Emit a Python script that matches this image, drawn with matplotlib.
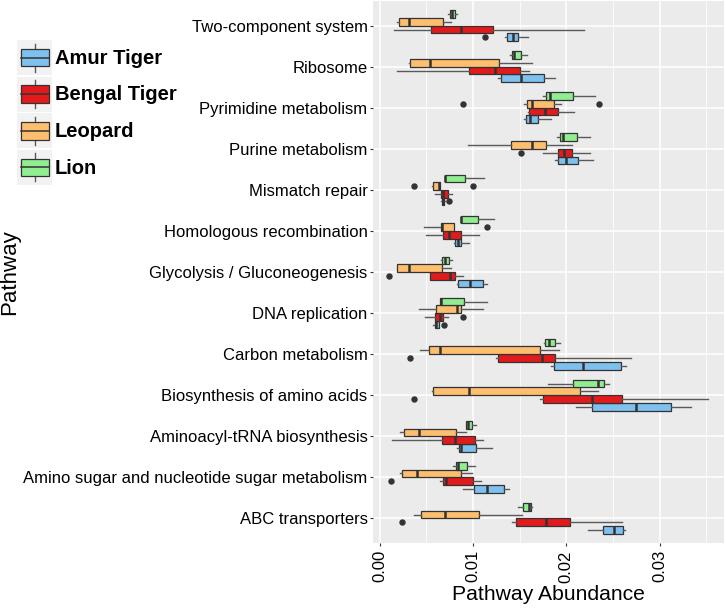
import numpy as np
import matplotlib
matplotlib.use('Agg')
import matplotlib.pyplot as plt
from matplotlib.patches import Patch, Rectangle
from matplotlib.lines import Line2D
from matplotlib.legend_handler import HandlerBase

plt.rcParams['font.family'] = ['Liberation Sans', 'DejaVu Sans']

# pathways, bottom -> top
pathways = ['ABC transporters',
            'Amino sugar and nucleotide sugar metabolism',
            'Aminoacyl-tRNA biosynthesis',
            'Biosynthesis of amino acids',
            'Carbon metabolism',
            'DNA replication',
            'Glycolysis / Gluconeogenesis',
            'Homologous recombination',
            'Mismatch repair',
            'Purine metabolism',
            'Pyrimidine metabolism',
            'Ribosome',
            'Two-component system']

groups = ['Amur Tiger', 'Bengal Tiger', 'Leopard', 'Lion']
colors = ['#7EC0EE', '#E31A1C', '#FDBF6F', '#90EE90']

# (whisker low, q1, median, q3, whisker high) per pathway
amur_stats = [
    (0.02229, 0.02393, 0.02507, 0.02607, 0.02629),
    (0.00889, 0.01011, 0.01154, 0.01332, 0.01389),
    (0.00832, 0.00854, 0.00875, 0.01032, 0.01207),
    (0.02104, 0.02275, 0.02750, 0.03125, 0.03332),
    (0.01840, 0.01868, 0.02179, 0.02586, 0.02643),
    (0.00571, 0.00593, 0.00604, 0.00632, 0.00632),
    (0.00832, 0.00843, 0.00971, 0.01111, 0.01150),
    (0.00796, 0.00804, 0.00839, 0.00875, 0.00961),
    (0.00654, 0.00668, 0.00682, 0.00693, 0.00696),
    (0.01879, 0.01914, 0.02000, 0.02125, 0.02289),
    (0.01550, 0.01568, 0.01614, 0.01700, 0.01836),
    (0.01271, 0.01300, 0.01511, 0.01761, 0.01882),
    (0.01346, 0.01361, 0.01425, 0.01479, 0.01593)]
amur_out = [[], [], [], [], [], [0.00695], [], [], [0.00746], [], [], [], [0.01132]]

bengal_stats = [
    (0.01421, 0.01461, 0.01786, 0.02036, 0.02593),
    (0.00646, 0.00675, 0.00707, 0.00996, 0.01086),
    (0.00136, 0.00668, 0.00811, 0.01025, 0.01104),
    (0.01714, 0.01750, 0.02275, 0.02593, 0.03518),
    (0.01243, 0.01268, 0.01736, 0.01882, 0.02696),
    (0.00484, 0.00596, 0.00650, 0.00679, 0.00729),
    (0.00543, 0.00543, 0.00757, 0.00804, 0.00896),
    (0.00502, 0.00682, 0.00743, 0.00875, 0.01064),
    (0.00589, 0.00654, 0.00679, 0.00736, 0.00775),
    (0.01750, 0.01914, 0.01975, 0.02064, 0.02254),
    (0.01586, 0.01600, 0.01775, 0.01911, 0.02086),
    (0.00186, 0.00957, 0.01239, 0.01504, 0.01604),
    (0.00154, 0.00546, 0.00875, 0.01218, 0.02193)]
bengal_out = [[0.00243], [0.00125], [], [0.00364], [0.00321], [0.00895], [0.00100],
              [], [], [0.01514], [], [], []]

leopard_stats = [
    (0.00364, 0.00443, 0.00704, 0.01064, 0.01529),
    (0.00221, 0.00239, 0.00396, 0.00875, 0.00993),
    (0.00214, 0.00261, 0.00425, 0.00818, 0.00929),
    (0.00564, 0.00571, 0.00961, 0.02143, 0.02343),
    (0.00432, 0.00525, 0.00646, 0.01718, 0.01918),
    (0.00420, 0.00602, 0.00834, 0.00875, 0.01105),
    (0.00190, 0.00190, 0.00314, 0.00668, 0.00768),
    (0.00473, 0.00658, 0.00671, 0.00796, 0.00796),
    (0.00557, 0.00568, 0.00636, 0.00646, 0.00646),
    (0.00946, 0.01407, 0.01629, 0.01782, 0.02064),
    (0.01546, 0.01579, 0.01629, 0.01868, 0.01943),
    (0.00314, 0.00329, 0.00536, 0.01279, 0.01636),
    (0.00186, 0.00207, 0.00311, 0.00675, 0.00768)]
leopard_out = [[], [], [], [], [], [], [], [0.01154], [0.00366, 0.01000], [],
               [0.00893, 0.02346], [], []]

lion_stats = [
    (0.01482, 0.01536, 0.01600, 0.01621, 0.01636),
    (0.00789, 0.00814, 0.00839, 0.00936, 0.01018),
    (0.00921, 0.00929, 0.00950, 0.00986, 0.01029),
    (0.01807, 0.02071, 0.02339, 0.02407, 0.02461),
    (0.01760, 0.01775, 0.01818, 0.01882, 0.01936),
    (0.00643, 0.00645, 0.00654, 0.00905, 0.01150),
    (0.00657, 0.00668, 0.00696, 0.00743, 0.00779),
    (0.00868, 0.00870, 0.00875, 0.01054, 0.01227),
    (0.00702, 0.00703, 0.00706, 0.00912, 0.01114),
    (0.01900, 0.01929, 0.01968, 0.02114, 0.02254),
    (0.01746, 0.01786, 0.01829, 0.02071, 0.02311),
    (0.01400, 0.01418, 0.01439, 0.01514, 0.01579),
    (0.00732, 0.00754, 0.00775, 0.00807, 0.00829)]
lion_out = [[] for _ in pathways]

all_stats = [amur_stats, bengal_stats, leopard_stats, lion_stats]
all_out = [amur_out, bengal_out, leopard_out, lion_out]


class BoxKey(HandlerBase):
    # ggplot-like boxplot legend key
    def create_artists(self, legend, orig_handle, xdescent, ydescent,
                       width, height, fontsize, trans):
        x0, y0 = -xdescent, -ydescent
        bg = Rectangle((x0, y0), width, height, facecolor='#F2F2F2',
                       edgecolor='none', transform=trans)
        wl = Line2D([x0 + width / 2] * 2, [y0 + 0.1 * height, y0 + 0.9 * height],
                    color='#595959', lw=1, transform=trans)
        bx = Rectangle((x0 + 0.1 * width, y0 + 0.25 * height), 0.8 * width, 0.5 * height,
                       facecolor=orig_handle.get_facecolor(), edgecolor='#333333',
                       lw=0.9, transform=trans)
        md = Line2D([x0 + 0.1 * width, x0 + 0.9 * width], [y0 + height / 2] * 2,
                    color='#333333', lw=1.1, transform=trans)
        return [bg, wl, bx, md]


fig = plt.figure(figsize=(7.26, 6.08), dpi=100)
ax = fig.add_axes([0.5134, 0.1069, 0.4839, 0.8914])
ax.set_facecolor('#EBEBEB')

base = np.arange(1, len(pathways) + 1)
dodge = 0.1875
offsets = [-1.5 * dodge, -0.5 * dodge, 0.5 * dodge, 1.5 * dodge]

for stats, outs, col, off in zip(all_stats, all_out, colors, offsets):
    bstats = []
    for s, o in zip(stats, outs):
        bstats.append({'whislo': s[0], 'q1': s[1], 'med': s[2], 'q3': s[3],
                       'whishi': s[4], 'fliers': o})
    ax.bxp(bstats, positions=base + off, widths=dodge, orientation='horizontal',
           patch_artist=True, showcaps=False, manage_ticks=False,
           boxprops=dict(facecolor=col, edgecolor='#333333', linewidth=0.9),
           medianprops=dict(color='#333333', linewidth=1.8),
           whiskerprops=dict(color='#5A5A5A', linewidth=1.0),
           flierprops=dict(marker='o', markersize=3.6, markerfacecolor='#333333',
                           markeredgecolor='#333333'),
           zorder=3)

ax.set_xlim(-0.00073, 0.03691)
ax.set_ylim(0.4, len(pathways) + 0.6)
ax.set_xticks([0.0, 0.01, 0.02, 0.03])
ax.set_xticklabels(['0.00', '0.01', '0.02', '0.03'], rotation=90, fontsize=12)
ax.set_xticks([0.005, 0.015, 0.025, 0.035], minor=True)
ax.set_yticks(base)
ax.set_yticklabels(pathways, fontsize=12)
ax.grid(True, which='major', color='white', linewidth=1.1, zorder=0)
ax.grid(True, which='minor', axis='x', color='white', linewidth=0.55, zorder=0)
ax.set_axisbelow(True)
for sp in ax.spines.values():
    sp.set_visible(False)
ax.tick_params(axis='both', which='major', length=2.2, width=0.8, color='#333333',
               pad=1.5, labelcolor='black')
ax.tick_params(axis='x', which='major', pad=3)
ax.tick_params(axis='x', which='minor', length=0)

ax.set_xlabel('Pathway Abundance', fontsize=15.2, labelpad=2)
ax.set_ylabel('Pathway', fontsize=16, labelpad=2)

handles = [Patch(facecolor=c) for c in colors]
fig.legend(handles, groups, handler_map={Patch: BoxKey()},
           loc='upper left', bbox_to_anchor=(0.0238, 0.934),
           frameon=False, borderpad=0, borderaxespad=0,
           handlelength=1.74, handleheight=2.3, labelspacing=0.075,
           handletextpad=0.12, prop={'weight': 'bold', 'size': 14.5})

plt.savefig('out.png', dpi=100)
